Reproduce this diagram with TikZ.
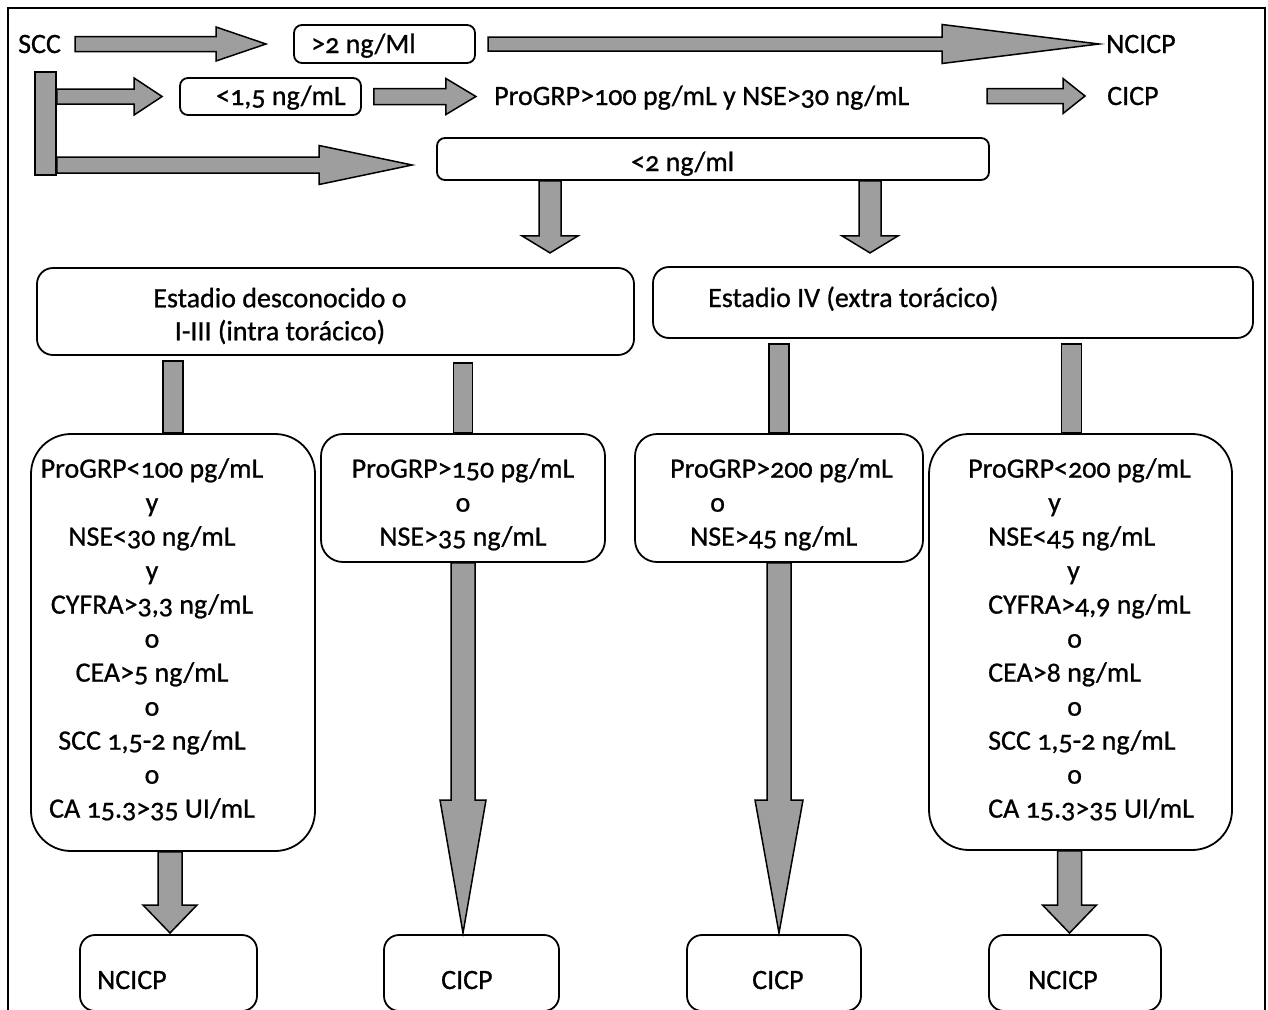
\documentclass[tikz,border=0pt]{standalone}
\usepackage{fontspec}
\setmainfont{Carlito}[Numbers=OldStyle, FakeBold=0.8]
\usetikzlibrary{calc}

\definecolor{arrowgray}{gray}{0.62}

\tikzset{
  txt/.style={inner sep=0pt, font=\fontsize{28}{34}\selectfont},
  tbox/.style={draw, line width=1.8pt, rounded corners=8pt, inner sep=0pt},
  blockarrow/.style={draw, line width=1.5pt, fill=arrowgray, line join=miter},
}

% block arrows: tail, tip, shaft half width, head half width, head length
\newcommand{\blockright}[5]{%
  \draw[blockarrow] ($(#1)+(0,#3)$) -- ($(#2)+(-#5,#3)$) -- ($(#2)+(-#5,#4)$) -- (#2)
    -- ($(#2)+(-#5,-#4)$) -- ($(#2)+(-#5,-#3)$) -- ($(#1)+(0,-#3)$) -- cycle;}
\newcommand{\blockdown}[5]{%
  \draw[blockarrow] ($(#1)+(#3,0)$) -- ($(#2)+(#3,-#5)$) -- ($(#2)+(#4,-#5)$) -- (#2)
    -- ($(#2)+(-#4,-#5)$) -- ($(#2)+(-#3,-#5)$) -- ($(#1)+(-#3,0)$) -- cycle;}
\newcommand{\blockbar}[3]{%
  \draw[blockarrow] ($(#1)+(-#3,0)$) rectangle ($(#2)+(#3,0)$);}

\begin{document}
\begin{tikzpicture}[x=1pt, y=-1pt]
  \useasboundingbox (0,0) rectangle (1268,1009);
  \clip (0,0) rectangle (1268,1009);
  \draw[line width=2.5pt] (8,1030) -- (8,8) -- (1265,8) -- (1265,1030);

  % first rows
  \node[txt, anchor=base west] (scc) at (18,53) {SCC};
  \node[tbox, minimum width=181, minimum height=38] (gt2) at (384.5,44) {};
  \node[txt, anchor=base west] (gt2t) at (311,53) {>2 ng/Ml};
  \node[txt, anchor=base west] (ncicp) at (1106,53) {NCICP};
  \node[draw, line width=1.5pt, fill=arrowgray, minimum width=21, minimum height=103, inner sep=0pt] (sccbar) at (45.5,123.5) {};
  \node[tbox, minimum width=181, minimum height=37] (lt15) at (270.5,96.5) {};
  \node[txt, anchor=base west] (lt15t) at (216,105) {<1,5 ng/mL};
  \node[txt, anchor=base west] (prog) at (494,105) {ProGRP>100 pg/mL y NSE>30 ng/mL};
  \node[txt, anchor=base west] (cicp) at (1107,105) {CICP};
  \node[tbox, minimum width=552, minimum height=42] (lt2) at (713,159) {};
  \node[txt, anchor=base west] (lt2t) at (631,171) {<2 ng/ml};

  \coordinate (a1s) at (75,44);
  \coordinate (a1e) at (266,44);
  \coordinate (a2s) at (488,44);
  \coordinate (a2e) at (1099,44);
  \coordinate (b1s) at (sccbar.east |- lt15.west);
  \coordinate (b1e) at ($(lt15.west)+(-17,0)$);
  \coordinate (b2s) at ($(lt15.east)+(12,0)$);
  \coordinate (b2e) at ($(b2s)+(102,0)$);
  \coordinate (b3s) at (987,96);
  \coordinate (b3e) at (1085,96);
  \coordinate (c1e) at ($(lt2.west)+(-24,6)$);
  \coordinate (c1s) at (sccbar.east |- c1e);
  \blockright{a1s}{a1e}{7.5}{17}{50}
  \blockright{a2s}{a2e}{7}{19.5}{157}
  \blockright{b1s}{b1e}{7.5}{18.5}{28}
  \blockright{b2s}{b2e}{8}{18}{30}
  \blockright{b3s}{b3e}{7.5}{17.5}{22}
  \blockright{c1s}{c1e}{8}{19.5}{93}

  % stages
  \node[tbox, rounded corners=16pt, minimum width=597, minimum height=87] (est13) at (335.5,311.5) {};
  \node[txt, align=center, font=\fontsize{28}{33}\selectfont] (est13t) at (280,316) {Estadio desconocido o\\I-III (intra torácico)};
  \node[tbox, rounded corners=16pt, minimum width=600, minimum height=71] (est4) at (953,302.5) {};
  \node[txt, anchor=base west] (est4t) at (708,307) {Estadio IV (extra torácico)};

  \coordinate (d1s) at ($(lt2.south)+(-163,0)$);
  \coordinate (d1e) at ($(d1s)+(0,72)$);
  \coordinate (d2s) at ($(lt2.south)+(157,0)$);
  \coordinate (d2e) at ($(d2s)+(0,72)$);
  \blockdown{d1s}{d1e}{11}{28}{17}
  \blockdown{d2s}{d2e}{11}{28}{17}

  % markers
  \node[tbox, rounded corners=40pt, minimum width=284, minimum height=417] (p1) at (173,642.5) {};
  \node[txt, align=center, anchor=north] (p1t) at (152,458) {ProGRP<100 pg/mL\\ y\hspace*{24pt}\\ NSE<30 ng/mL\\ y\hspace*{24pt}\\ CYFRA>3,3 ng/mL\\ o\hspace*{24pt}\\ CEA>5 ng/mL\\ o\hspace*{24pt}\\ SCC 1,5-2 ng/mL\\ o\hspace*{24pt}\\ CA 15.3>35 UI/mL};
  \node[tbox, rounded corners=22pt, minimum width=284, minimum height=128] (p2) at (463,498) {};
  \node[txt, align=center, anchor=north] (p2t) at (463,458) {ProGRP>150 pg/mL\\ o\\ NSE>35 ng/mL};
  \node[tbox, rounded corners=22pt, minimum width=288, minimum height=128] (p3) at (779,498) {};
  \node[txt, align=left, anchor=north west] (p3t) at (670,458) {ProGRP>200 pg/mL\\ \hspace*{40pt}o\\ \hspace*{20pt}NSE>45 ng/mL};
  \node[tbox, rounded corners=40pt, minimum width=303, minimum height=416] (p4) at (1080.5,642) {};
  \node[txt, align=left, anchor=north west] (p4t) at (968,458) {ProGRP<200 pg/mL\\ \hspace*{80pt}y\\ \hspace*{20pt}NSE<45 ng/mL\\ \hspace*{99pt}y\\ \hspace*{20pt}CYFRA>4,9 ng/mL\\ \hspace*{99pt}o\\ \hspace*{20pt}CEA>8 ng/mL\\ \hspace*{99pt}o\\ \hspace*{20pt}SCC 1,5-2 ng/mL\\ \hspace*{99pt}o\\ \hspace*{20pt}CA 15.3>35 UI/mL};

  \blockbar{$(est13.south -| p1.north)+(0,5)$}{p1.north}{10}
  \blockbar{$(est13.south -| p2.north)+(0,7)$}{p2.north}{9.5}
  \blockbar{$(est4.south -| p3.north)+(0,5)$}{p3.north}{10}
  \coordinate (l4b) at ($(p4.north)+(-9,0)$);
  \blockbar{$(est4.south -| l4b)+(0,5)$}{l4b}{10}

  % results
  \node[tbox, rounded corners=15pt, minimum width=177, minimum height=76] (f1) at (168.5,973) {};
  \node[txt, anchor=base west] (f1t) at (97,989) {NCICP};
  \node[tbox, rounded corners=15pt, minimum width=175, minimum height=76] (f2) at (471.5,973) {};
  \node[txt, anchor=base west] (f2t) at (441,989) {CICP};
  \node[tbox, rounded corners=15pt, minimum width=174, minimum height=76] (f3) at (774,973) {};
  \node[txt, anchor=base west] (f3t) at (752,989) {CICP};
  \node[tbox, rounded corners=15pt, minimum width=172, minimum height=76] (f4) at (1075,973) {};
  \node[txt, anchor=base west] (f4t) at (1028,989) {NCICP};

  \coordinate (e1s) at ($(p1.south)+(-3,0)$);
  \coordinate (e1e) at (e1s |- 0,933);
  \coordinate (e2e) at (p2.south |- 0,933);
  \coordinate (e3e) at (p3.south |- 0,933);
  \coordinate (e4s) at ($(p4.south)+(-11,0)$);
  \coordinate (e4e) at (e4s |- 0,933);
  \blockdown{e1s}{e1e}{12}{27}{28}
  \blockdown{p2.south}{e2e}{12}{23}{133}
  \blockdown{p3.south}{e3e}{12}{24}{133}
  \blockdown{e4s}{e4e}{12}{27}{28}
\end{tikzpicture}
\end{document}
